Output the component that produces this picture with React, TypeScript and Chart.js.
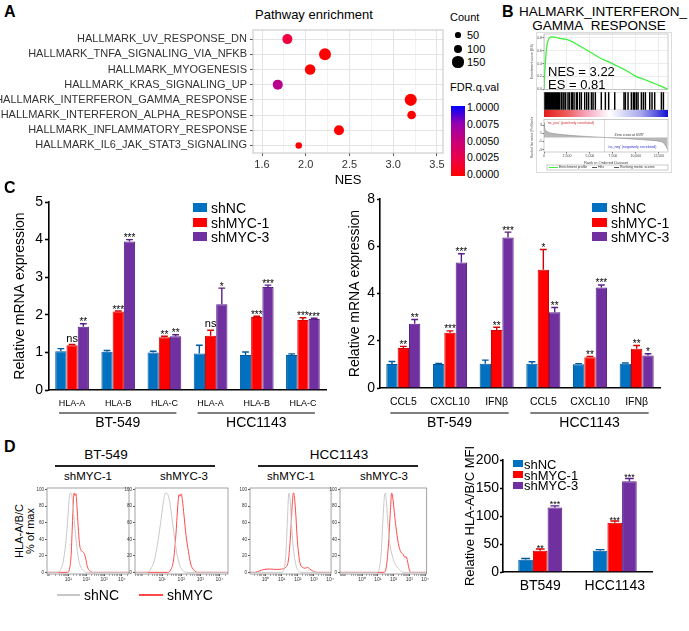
import React, { useEffect, useRef } from "react";
import { Chart, registerables } from "chart.js";

Chart.register(...registerables);
const FONT = "'Liberation Sans', Arial, Helvetica, sans-serif";
Chart.defaults.font.family = FONT;
Chart.defaults.color = "#000";

/* ---------------- A: pathway enrichment ---------------- */
const pathways = [
  "HALLMARK_UV_RESPONSE_DN",
  "HALLMARK_TNFA_SIGNALING_VIA_NFKB",
  "HALLMARK_MYOGENESIS",
  "HALLMARK_KRAS_SIGNALING_UP",
  "HALLMARK_INTERFERON_GAMMA_RESPONSE",
  "HALLMARK_INTERFERON_ALPHA_RESPONSE",
  "HALLMARK_INFLAMMATORY_RESPONSE",
  "HALLMARK_IL6_JAK_STAT3_SIGNALING",
];
const pathwayNES = [1.79, 2.22, 2.05, 1.68, 3.2, 3.21, 2.38, 1.92];
const pathwayCount = [130, 165, 140, 130, 168, 105, 130, 65];
const pathwayFDR = [0.0022, 0.0, 0.0, 0.0058, 0.0, 0.0, 0.0, 0.0];
const nesTickValues = [1.5, 2.0, 2.5, 3.0, 3.5];
const nesTickLabels = ["1.6", "2.0", "2.5", "3.0", "3.5"];
const countLegend = [50, 100, 150];
const fdrLegend = ["1.0000", "0.0075", "0.0050", "0.0025", "0.0000"];

/* ---------------- B: GSEA ---------------- */
const esRank = [0, 70, 150, 250, 350, 450, 600, 800, 1100, 1500, 2000, 2300, 2600, 3000, 3700, 4800, 6200, 7000, 8000, 9000, 9900, 11000, 11700, 12600, 13500];
const esScore = [0, 0.22, 0.42, 0.6, 0.71, 0.76, 0.8, 0.815, 0.81, 0.8, 0.785, 0.78, 0.77, 0.745, 0.69, 0.6, 0.48, 0.43, 0.36, 0.29, 0.21, 0.15, 0.11, 0.06, 0.0];
const esTicks = [0, 0.1, 0.2, 0.3, 0.4, 0.5, 0.6, 0.7, 0.8];
const hitRanks = [10, 35, 60, 90, 120, 150, 185, 215, 250, 285, 320, 350, 390, 430, 470, 510, 560, 600, 650, 700, 760, 820, 880, 950, 1020, 1100, 1180, 1260, 1340, 1450, 1600, 1710, 1890, 2070, 2180, 2360, 2610, 2760, 2980, 3090, 3270, 3520, 3630, 3880, 4070, 4430, 4650, 4860, 5160, 5340, 5590, 6240, 6680, 7040, 7700, 8710, 8860, 9150, 9510, 9730, 9870, 10060, 10240, 10600, 10820, 11040, 11510, 11760, 12050, 12780, 13000];
const metricRank = [0, 40, 120, 300, 600, 1000, 1600, 2500, 3500, 4500, 5500, 6597, 7500, 8500, 9500, 10500, 11500, 12200, 12800, 13100, 13300, 13450];
const metricValue = [3.6, 2.6, 1.9, 1.45, 1.15, 0.95, 0.78, 0.58, 0.4, 0.25, 0.12, 0, -0.12, -0.25, -0.38, -0.52, -0.68, -0.82, -1.05, -1.5, -2.3, -3.0];
const metricTicks = [-3, -2, -1, 0, 1, 2, 3, 4];
const rankTicks = [0, 2500, 5000, 7500, 10000, 12500];
const zeroCross = 6597;
const rankMax = 13500;

/* ---------------- C: qPCR ---------------- */
const seriesNames = ["shNC", "shMYC-1", "shMYC-3"];
const cellLinesC = ["BT-549", "HCC1143"];
const hlaGenes = ["HLA-A", "HLA-B", "HLA-C", "HLA-A", "HLA-B", "HLA-C"];
const hlaShNC = [1.03, 1.02, 1.0, 0.97, 0.93, 0.93];
const hlaShNCErr = [0.07, 0.03, 0.03, 0.22, 0.08, 0.03];
const hlaShMYC1 = [1.19, 2.09, 1.4, 1.44, 1.94, 1.86];
const hlaShMYC1Err = [0.02, 0.01, 0.03, 0.15, 0.02, 0.06];
const hlaShMYC3 = [1.68, 3.95, 1.43, 2.28, 2.74, 1.89];
const hlaShMYC3Err = [0.08, 0.05, 0.04, 0.43, 0.05, 0.02];
const hlaSig1 = ["ns", "***", "**", "ns", "***", "***"];
const hlaSig3 = ["**", "***", "**", "*", "***", "***"];

const cytGenes = ["CCL5", "CXCL10", "IFNβ", "CCL5", "CXCL10", "IFNβ"];
const cytShNC = [1.02, 1.02, 1.03, 1.03, 1.01, 1.03];
const cytShNCErr = [0.1, 0.02, 0.15, 0.08, 0.02, 0.03];
const cytShMYC1 = [1.69, 2.34, 2.46, 5.01, 1.3, 1.66];
const cytShMYC1Err = [0.07, 0.08, 0.11, 0.85, 0.04, 0.14];
const cytShMYC3 = [2.72, 5.31, 6.37, 3.21, 4.25, 1.38];
const cytShMYC3Err = [0.18, 0.37, 0.23, 0.2, 0.11, 0.07];
const cytSig1 = ["**", "***", "**", "*", "**", "**"];
const cytSig3 = ["**", "***", "***", "**", "***", "*"];

/* ---------------- D: flow + MFI ---------------- */
const flowYTicks = [0, 20, 40, 60, 80, 100];
const supDigits = ["⁰", "¹", "²", "³", "⁴"];
const bt1GreyX = [-0.2, 0.4, 0.55, 0.7, 0.85, 0.95, 1.03, 1.1, 1.17, 1.25, 1.35, 1.45, 1.55, 1.7, 1.85, 2.0, 4.4];
const bt1GreyY = [0, 0, 3, 12, 35, 60, 85, 96, 95, 82, 58, 35, 18, 6, 2, 0, 0];
const bt1RedX = [-0.2, 0.95, 1.05, 1.15, 1.22, 1.28, 1.32, 1.37, 1.42, 1.48, 1.55, 1.62, 1.7, 1.8, 1.9, 1.98, 2.05, 2.15, 2.3, 2.4, 4.4];
const bt1RedY = [0, 0, 3, 20, 55, 85, 96, 93, 95, 80, 55, 35, 27, 25, 22, 16, 8, 3, 0.5, 0, 0];
const bt3GreyX = [-0.42, 0.2, 0.4, 0.6, 0.8, 0.95, 1.08, 1.18, 1.28, 1.4, 1.52, 1.65, 1.78, 1.9, 2.05, 2.2, 2.3, 4.45];
const bt3GreyY = [0, 0, 4, 15, 40, 65, 87, 96, 95, 85, 65, 42, 22, 10, 3, 0.5, 0, 0];
const bt3RedX = [-0.42, 1.3, 1.45, 1.6, 1.72, 1.82, 1.88, 1.94, 2.0, 2.06, 2.15, 2.25, 2.38, 2.5, 2.65, 2.8, 2.9, 4.45];
const bt3RedY = [0, 0, 3, 15, 45, 80, 94, 92, 95, 88, 68, 45, 25, 10, 3, 0.5, 0, 0];
const hc1GreyX = [-0.96, 1.0, 1.15, 1.27, 1.36, 1.43, 1.47, 1.53, 1.62, 1.72, 1.82, 1.95, 2.1, 2.2, 4.06];
const hc1GreyY = [0, 0, 4, 25, 65, 94, 96, 85, 55, 30, 15, 5, 1, 0, 0];
const hc1RedX = [-0.96, -0.65, -0.4, -0.1, 0.3, 0.7, 1.0, 1.25, 1.42, 1.55, 1.65, 1.72, 1.78, 1.86, 1.95, 2.05, 2.15, 2.3, 2.45, 2.6, 2.75, 2.9, 3.05, 3.2, 4.06];
const hc1RedY = [0, 0, 1.5, 3.5, 4, 3.5, 4, 6, 15, 45, 80, 96, 93, 75, 45, 22, 10, 6, 5, 6, 4, 2, 0.5, 0, 0];
const hc3GreyX = [-1.4, 0.95, 1.1, 1.22, 1.33, 1.42, 1.48, 1.55, 1.65, 1.78, 1.92, 2.05, 2.2, 2.4, 2.6, 4.1];
const hc3GreyY = [0, 0, 5, 25, 65, 92, 96, 85, 55, 32, 20, 12, 7, 3, 0, 0];
const hc3RedX = [-1.4, 1.4, 1.55, 1.68, 1.8, 1.88, 1.95, 2.05, 2.15, 2.3, 2.45, 2.6, 2.72, 2.8, 2.88, 2.95, 3.02, 3.1, 4.1];
const hc3RedY = [0, 0, 8, 35, 75, 96, 90, 72, 55, 35, 25, 22, 18, 19, 14, 7, 2, 0, 0];

const mfiCells = ["BT549", "HCC1143"];
const mfiShNC = [22, 38];
const mfiShNCErr = [2, 2];
const mfiShMYC1 = [38, 88];
const mfiShMYC1Err = [3, 3];
const mfiShMYC3 = [115, 162];
const mfiShMYC3Err = [3, 5];
const mfiSig1 = ["**", "***"];
const mfiSig3 = ["***", "***"];

/* ---------------- styling ---------------- */
const BLUE = "#0070c0", RED = "#ff0000", PURPLE = "#7030a0";
const BLUE_D = "#005a9e", RED_D = "#d40000", PURPLE_D = "#5a2086";
const barColors = [BLUE, RED, PURPLE];
const barDark = [BLUE_D, RED_D, PURPLE_D];

const fdrStops: [number, number[]][] = [
  [0, [255, 0, 0]],
  [0.25, [236, 0, 73]],
  [0.5, [201, 0, 122]],
  [0.75, [150, 0, 176]],
  [1, [0, 0, 255]],
];
function fdrColor(f: number) {
  const t = Math.max(0, Math.min(1, f / 0.01));
  for (let i = 1; i < fdrStops.length; i++) {
    const [t1, c1] = fdrStops[i - 1];
    const [t2, c2] = fdrStops[i];
    if (t <= t2) {
      const k = (t - t1) / (t2 - t1);
      return `rgb(${c1.map((v, j) => Math.round(v + (c2[j] - v) * k)).join(",")})`;
    }
  }
  return "rgb(0,0,255)";
}
const countRadius = (c: number) => 1.5 + c * 0.027;

/* ---------------- plugins ---------------- */
const frame = (color: string, w: number) => ({
  id: "frame",
  afterDraw(chart: any) {
    const { left, top, right, bottom } = chart.chartArea;
    const ctx = chart.ctx;
    ctx.save();
    ctx.strokeStyle = color;
    ctx.lineWidth = w;
    ctx.strokeRect(left, top, right - left, bottom - top);
    ctx.restore();
  },
});

const errPlugin = (errs: number[][], sigs: string[][], sigSize: number, nsSize: number) => ({
  id: "errbars",
  afterDatasetsDraw(chart: any) {
    const ctx = chart.ctx;
    const ys = chart.scales.y;
    chart.data.datasets.forEach((ds: any, i: number) => {
      const meta = chart.getDatasetMeta(i);
      meta.data.forEach((bar: any, j: number) => {
        const v = ds.data[j];
        const top = ys.getPixelForValue(v + errs[i][j]);
        const hw = bar.width * 0.3;
        ctx.save();
        ctx.strokeStyle = ds.borderColor;
        ctx.lineWidth = 1.4;
        ctx.beginPath();
        ctx.moveTo(bar.x, bar.y);
        ctx.lineTo(bar.x, top);
        ctx.moveTo(bar.x - hw, top);
        ctx.lineTo(bar.x + hw, top);
        ctx.stroke();
        const s = sigs[i] && sigs[i][j];
        if (s) {
          ctx.fillStyle = "#000";
          ctx.textAlign = "center";
          ctx.textBaseline = "alphabetic";
          if (s === "ns") {
            ctx.font = `${nsSize}px ${FONT}`;
            ctx.fillText(s, bar.x, top - 3);
          } else {
            ctx.font = `${sigSize}px ${FONT}`;
            ctx.fillText(s, bar.x, top + 1.5);
          }
        }
        ctx.restore();
      });
    });
  },
});

const groupPlugin = (groups: { label: string; from: number; to: number }[], lineY: number, labelY: number, size: number, extL: number, extR: number) => ({
  id: "groups",
  afterDraw(chart: any) {
    const ctx = chart.ctx;
    const xs = chart.scales.x;
    groups.forEach((g) => {
      const a = xs.getPixelForValue(g.from) - extL;
      const b = xs.getPixelForValue(g.to) + extR;
      ctx.save();
      ctx.strokeStyle = "#555";
      ctx.lineWidth = 1.4;
      ctx.beginPath();
      ctx.moveTo(a, lineY);
      ctx.lineTo(b, lineY);
      ctx.stroke();
      ctx.fillStyle = "#000";
      ctx.font = `${size}px ${FONT}`;
      ctx.textAlign = "center";
      ctx.textBaseline = "middle";
      ctx.fillText(g.label, (a + b) / 2, labelY);
      ctx.restore();
    });
  },
});

const gseaAnnot = {
  id: "gseaAnnot",
  afterDraw(chart: any) {
    const ctx = chart.ctx;
    const xs = chart.scales.x;
    const ys = chart.scales.y;
    const { top, bottom, left } = chart.chartArea;
    const zx = xs.getPixelForValue(zeroCross);
    ctx.save();
    ctx.strokeStyle = "#777";
    ctx.lineWidth = 0.5;
    ctx.setLineDash([1, 1]);
    ctx.beginPath();
    ctx.moveTo(zx, top);
    ctx.lineTo(zx, bottom);
    ctx.stroke();
    ctx.setLineDash([]);
    ctx.font = `3.5px ${FONT}`;
    ctx.textBaseline = "middle";
    ctx.fillStyle = "#333";
    ctx.textAlign = "left";
    ctx.fillText("Zero cross at " + zeroCross, zx + 10, ys.getPixelForValue(0) - 2);
    ctx.fillStyle = "#d03030";
    ctx.fillText("'na_pos' (positively correlated)", left + 3, top + 3);
    ctx.fillStyle = "#3030d0";
    ctx.textAlign = "center";
    ctx.fillText("'na_neg' (negatively correlated)", xs.getPixelForValue(9600), ys.getPixelForValue(-2.3));
    const ly = 50.5;
    ctx.strokeStyle = "#999";
    ctx.lineWidth = 0.5;
    ctx.strokeRect(17, ly - 2.5, 121, 5);
    ctx.strokeStyle = "#3cf03c";
    ctx.lineWidth = 1;
    ctx.beginPath();
    ctx.moveTo(19, ly);
    ctx.lineTo(28, ly);
    ctx.stroke();
    ctx.strokeStyle = "#555";
    ctx.beginPath();
    ctx.moveTo(62, ly);
    ctx.lineTo(67, ly);
    ctx.moveTo(84, ly);
    ctx.lineTo(89, ly);
    ctx.stroke();
    ctx.fillStyle = "#333";
    ctx.textAlign = "left";
    ctx.fillText("Enrichment profile", 29, ly);
    ctx.fillText("Hits", 68, ly);
    ctx.fillText("Ranking metric scores", 90, ly);
    ctx.restore();
  },
};

/* ---------------- chart configs ---------------- */
const noPlug = { legend: { display: false }, tooltip: { enabled: false } };

function cfgA(): any {
  const majorIdx = (v: number) => nesTickValues.findIndex((t) => Math.abs(t - v) < 1e-6);
  const minors = nesTickValues.slice(0, -1).map((v, i) => (v + nesTickValues[i + 1]) / 2);
  const allTicks = [...nesTickValues, ...minors].sort((a, b) => a - b);
  return {
    type: "scatter",
    data: {
      datasets: [
        {
          data: pathwayNES.map((x, i) => ({ x, y: i })),
          pointRadius: pathwayCount.map(countRadius),
          pointBackgroundColor: pathwayFDR.map(fdrColor),
          pointBorderWidth: 0,
        },
      ],
    },
    options: {
      responsive: false,
      animation: false,
      events: [],
      layout: { padding: { top: 30, right: 7, left: 0, bottom: 0 } },
      plugins: noPlug,
      scales: {
        x: {
          type: "linear",
          min: 1.397,
          max: 3.569,
          afterBuildTicks: (s: any) => {
            s.ticks = allTicks.map((v) => ({ value: v }));
          },
          ticks: {
            autoSkip: false,
            maxRotation: 0,
            padding: 2,
            color: "#333",
            font: { size: 11 },
            callback: (v: number) => {
              const i = majorIdx(v);
              return i >= 0 ? nesTickLabels[i] : "";
            },
          },
          grid: {
            color: (c: any) => (majorIdx(c.tick.value) >= 0 ? "#e4e4e4" : "#f2f2f2"),
            tickColor: (c: any) => (majorIdx(c.tick.value) >= 0 ? "#555" : "rgba(0,0,0,0)"),
            tickLength: 3,
          },
          border: { display: false },
          title: { display: true, text: "NES", font: { size: 13 }, color: "#000", padding: { top: 0, bottom: 2 } },
          afterFit: (s: any) => {
            s.height = 37;
          },
        },
        y: {
          type: "linear",
          min: -0.6,
          max: 7.5,
          reverse: true,
          afterBuildTicks: (s: any) => {
            s.ticks = pathways.map((_, i) => ({ value: i }));
          },
          ticks: { autoSkip: false, padding: 3, color: "#333", font: { size: 11 }, callback: (v: number) => pathways[v] ?? "" },
          grid: { color: "#e4e4e4", tickColor: "#555", tickLength: 3 },
          border: { display: false },
          afterFit: (s: any) => {
            s.width = 253;
          },
        },
      },
    },
    plugins: [frame("#c4c4c4", 1)],
  };
}

function cfgES(): any {
  return {
    type: "line",
    data: {
      datasets: [
        {
          data: esRank.map((x, i) => ({ x, y: esScore[i] })),
          borderColor: "#3cf03c",
          borderWidth: 1.3,
          pointRadius: 0,
          cubicInterpolationMode: "monotone",
          fill: false,
        },
      ],
    },
    options: {
      responsive: false,
      animation: false,
      events: [],
      layout: { padding: { top: 4, right: 4, left: 0, bottom: 0 } },
      plugins: noPlug,
      scales: {
        x: {
          type: "linear",
          min: 0,
          max: rankMax,
          afterBuildTicks: (s: any) => {
            s.ticks = rankTicks.map((v) => ({ value: v }));
          },
          ticks: { display: false },
          grid: { color: "#ececec", drawTicks: false },
          border: { display: false },
          afterFit: (s: any) => {
            s.height = 0;
          },
        },
        y: {
          min: 0,
          max: 0.86,
          afterBuildTicks: (s: any) => {
            s.ticks = esTicks.map((v) => ({ value: v }));
          },
          ticks: { font: { size: 3.5 }, color: "#444", padding: 0.5, callback: (v: number) => v.toFixed(1) },
          grid: { color: "#ececec", tickLength: 1.5, tickColor: "#666" },
          border: { display: false },
          title: { display: true, text: "Enrichment score (ES)", font: { size: 3.5 }, color: "#444", padding: 0 },
          afterFit: (s: any) => {
            s.width = 14;
          },
        },
      },
    },
    plugins: [frame("#aaaaaa", 0.6)],
  };
}

function cfgHits(): any {
  return {
    type: "bar",
    data: {
      datasets: [
        {
          data: hitRanks.map((x) => ({ x, y: 1 })),
          backgroundColor: "#000",
          borderWidth: 0,
          barThickness: 0.8,
          grouped: false,
        },
      ],
    },
    options: {
      responsive: false,
      animation: false,
      events: [],
      layout: { padding: { top: 0, right: 4, left: 14, bottom: 0 } },
      plugins: noPlug,
      scales: {
        x: { type: "linear", min: 0, max: rankMax, display: false, offset: false },
        y: { min: 0, max: 1, display: false },
      },
    },
    plugins: [frame("#aaaaaa", 0.6)],
  };
}

function cfgMetric(): any {
  return {
    type: "line",
    data: {
      datasets: [
        {
          data: metricRank.map((x, i) => ({ x, y: metricValue[i] })),
          borderColor: "#8c8c8c",
          borderWidth: 0.6,
          backgroundColor: "#b8b8b8",
          fill: "origin",
          pointRadius: 0,
        },
      ],
    },
    options: {
      responsive: false,
      animation: false,
      events: [],
      layout: { padding: { top: 0, right: 4, left: 0, bottom: 7 } },
      plugins: noPlug,
      scales: {
        x: {
          type: "linear",
          min: 0,
          max: rankMax,
          afterBuildTicks: (s: any) => {
            s.ticks = rankTicks.map((v) => ({ value: v }));
          },
          ticks: { font: { size: 3.5 }, color: "#444", padding: 0.5, maxRotation: 0, autoSkip: false, callback: (v: number) => v.toLocaleString("en-US") },
          grid: { drawOnChartArea: false, tickLength: 1.5, tickColor: "#666" },
          border: { display: false },
          title: { display: true, text: "Rank in Ordered Dataset", font: { size: 4 }, color: "#444", padding: { top: 0, bottom: 0.5 } },
          afterFit: (s: any) => {
            s.height = 14;
          },
        },
        y: {
          min: -3.6,
          max: 4.4,
          afterBuildTicks: (s: any) => {
            s.ticks = metricTicks.map((v) => ({ value: v }));
          },
          ticks: { font: { size: 3.5 }, color: "#444", padding: 0.5 },
          grid: { drawOnChartArea: false, tickLength: 1.5, tickColor: "#666" },
          border: { display: false },
          title: { display: true, text: "Ranked list metric (PreRanked)", font: { size: 3.2 }, color: "#444", padding: 0 },
          afterFit: (s: any) => {
            s.width = 14;
          },
        },
      },
    },
    plugins: [frame("#aaaaaa", 0.6), gseaAnnot],
  };
}

function barCfg(o: any): any {
  return {
    type: "bar",
    data: {
      labels: o.labels,
      datasets: o.series.map((d: number[], i: number) => ({
        label: seriesNames[i],
        data: d,
        backgroundColor: barColors[i],
        borderColor: barDark[i],
        borderWidth: 1,
        categoryPercentage: o.catPct,
        barPercentage: 1,
      })),
    },
    options: {
      responsive: false,
      animation: false,
      events: [],
      layout: { padding: { top: o.padTop, right: o.padRight, left: 0, bottom: 0 } },
      plugins: noPlug,
      scales: {
        x: {
          grid: { display: false, drawTicks: false },
          border: { display: true, color: "#000", width: 1.6 },
          ticks: { font: { size: o.xTickSize }, color: "#000", padding: o.xTickPad, maxRotation: 0, autoSkip: false },
          afterFit: (s: any) => {
            s.height = o.xH;
          },
        },
        y: {
          min: 0,
          max: o.yMax,
          ticks: { stepSize: o.yStep, font: { size: o.yTickSize }, color: "#000", padding: o.yTickPad ?? 2 },
          grid: { drawOnChartArea: false, drawTicks: true, tickLength: o.yTickLen ?? 4, tickColor: "#000", tickWidth: 1.6 },
          border: { display: true, color: "#000", width: 1.6 },
          title: { display: true, text: o.yTitle, font: { size: o.yTitleSize }, color: "#000", padding: { top: o.yTitlePad, bottom: 0 } },
          afterFit: (s: any) => {
            s.width = o.yW;
          },
        },
      },
    },
    plugins: [
      errPlugin(o.errs, o.sigs, o.sigSize, o.nsSize),
      ...(o.groups ? [groupPlugin(o.groups, o.groupLineY, o.groupLabelY, o.groupSize, o.extL, o.extR)] : []),
    ],
  };
}

function flowCfg(gx: number[], gy: number[], rx: number[], ry: number[], xmin: number, xmax: number, decades: number[]): any {
  const minors: number[] = [];
  for (let d = Math.floor(xmin); d <= Math.ceil(xmax); d++) {
    for (let k = 2; k <= 9; k++) {
      const v = d + Math.log10(k);
      if (v > xmin && v < xmax) minors.push(v);
    }
  }
  const ticks = [...decades, ...minors].sort((a, b) => a - b);
  const isDecade = (v: number) => decades.some((d) => Math.abs(d - v) < 1e-6);
  return {
    type: "line",
    data: {
      datasets: [
        { data: gx.map((x, i) => ({ x, y: gy[i] })), borderColor: "#c8c8c8", borderWidth: 1, pointRadius: 0, cubicInterpolationMode: "monotone" },
        { data: rx.map((x, i) => ({ x, y: ry[i] })), borderColor: "#ff4a4a", borderWidth: 1, pointRadius: 0, cubicInterpolationMode: "monotone" },
      ],
    },
    options: {
      responsive: false,
      animation: false,
      events: [],
      layout: { padding: { top: 4, right: 3, left: 0, bottom: 0 } },
      plugins: noPlug,
      scales: {
        x: {
          type: "linear",
          min: xmin,
          max: xmax,
          afterBuildTicks: (s: any) => {
            s.ticks = ticks.map((v) => ({ value: v }));
          },
          ticks: {
            autoSkip: false,
            maxRotation: 0,
            font: { size: 5 },
            color: "#333",
            padding: 1,
            callback: (v: number) => (isDecade(v) ? "10" + supDigits[Math.round(v)] : ""),
          },
          grid: { drawOnChartArea: false, tickLength: 2, tickColor: (c: any) => (isDecade(c.tick.value) ? "#555" : "#aaa") },
          border: { display: false },
          afterFit: (s: any) => {
            s.height = 10;
          },
        },
        y: {
          min: -2,
          max: 102,
          afterBuildTicks: (s: any) => {
            s.ticks = flowYTicks.map((v) => ({ value: v }));
          },
          ticks: { font: { size: 4.5 }, color: "#333", padding: 1 },
          grid: { drawOnChartArea: false, tickLength: 2, tickColor: "#555" },
          border: { display: false },
          afterFit: (s: any) => {
            s.width = 12;
          },
        },
      },
    },
    plugins: [frame("#8c8c8c", 0.8)],
  };
}

/* ---------------- components ---------------- */
function ChartBox({ x, y, w, h, make }: any) {
  const ref = useRef<HTMLCanvasElement>(null);
  useEffect(() => {
    const chart = new Chart(ref.current as HTMLCanvasElement, make());
    return () => chart.destroy();
  }, []);
  return <canvas ref={ref} width={w} height={h} style={{ position: "absolute", left: x, top: y, width: w, height: h }} />;
}

function Txt({ x, y, s, a = "l", b = false, c = "#000", rot = 0, children }: any) {
  const tx = a === "l" ? "0%" : a === "c" ? "-50%" : "-100%";
  return (
    <div
      style={{
        position: "absolute",
        left: x,
        top: y,
        fontSize: s,
        fontWeight: b ? 700 : 400,
        color: c,
        lineHeight: 1,
        whiteSpace: "nowrap",
        fontFamily: FONT,
        transform: `translate(${tx}, -50%) rotate(${rot}deg)`,
      }}
    >
      {children}
    </div>
  );
}

function HLine({ x1, x2, y, w = 1.2, c = "#222" }: any) {
  return <div style={{ position: "absolute", left: x1, top: y - w / 2, width: x2 - x1, height: w, background: c }} />;
}

function Box({ x, y, w, h, c }: any) {
  return <div style={{ position: "absolute", left: x, top: y, width: w, height: h, background: c }} />;
}

function BarLegend({ x, ys, sw, sh, tx, size }: any) {
  return (
    <>
      {seriesNames.map((n, i) => (
        <React.Fragment key={n}>
          <Box x={x} y={ys[i] - sh / 2} w={sw} h={sh} c={barColors[i]} />
          <Txt x={tx} y={ys[i]} s={size}>
            {n}
          </Txt>
        </React.Fragment>
      ))}
    </>
  );
}

const fdrGradient = `linear-gradient(to top, ${fdrStops.map(([t, c]) => `rgb(${c.join(",")}) ${t * 100}%`).join(", ")})`;

const groupsOf = (labels: string[]) => [
  { label: labels[0], from: 0, to: 2 },
  { label: labels[1], from: 3, to: 5 },
];

const flowBox = (l: number, r: number) => ({ x: l - 12, w: r + 3 - (l - 12) });

export default function App() {
  const f1 = flowBox(47, 129);
  const f2 = flowBox(135, 228);
  const f3 = flowBox(250, 332);
  const f4 = flowBox(340, 427);
  return (
    <div style={{ position: "absolute", left: 0, top: 0, width: 689, height: 631, background: "#fff", overflow: "hidden", fontFamily: FONT }}>
      {/* ---------- A ---------- */}
      <Txt x={4} y={12} s={16} b>
        A
      </Txt>
      <Txt x={255} y={14} s={13}>
        Pathway enrichment
      </Txt>
      <ChartBox x={0} y={0} w={450} h={190} make={cfgA} />
      <Txt x={450} y={17} s={11}>
        Count
      </Txt>
      {countLegend.map((c, i) => {
        const r = countRadius(c);
        const cy = [35, 49, 62][i];
        return (
          <React.Fragment key={c}>
            <div style={{ position: "absolute", left: 458 - r, top: cy - r, width: 2 * r, height: 2 * r, borderRadius: "50%", background: "#000" }} />
            <Txt x={467} y={cy} s={11}>
              {c}
            </Txt>
          </React.Fragment>
        );
      })}
      <Txt x={450} y={87} s={11}>
        FDR.q.val
      </Txt>
      <div style={{ position: "absolute", left: 451, top: 106, width: 14, height: 70, background: fdrGradient }} />
      {fdrLegend.map((l, i) => (
        <Txt key={l} x={467} y={107 + i * 16.75} s={10.5}>
          {l}
        </Txt>
      ))}

      {/* ---------- B ---------- */}
      <Txt x={502} y={12} s={16} b>
        B
      </Txt>
      <Txt x={603} y={12} s={13.5} a="c">
        HALMARK_INTERFERON_
      </Txt>
      <Txt x={599} y={26} s={13.5} a="c">
        GAMMA_RESPONSE
      </Txt>
      <div style={{ position: "absolute", left: 536, top: 32, width: 136, height: 141, border: "1px solid #dcdcdc", boxSizing: "border-box" }} />
      <ChartBox x={530} y={30} w={142} h={62} make={cfgES} />
      <ChartBox x={530} y={92} w={142} h={18} make={cfgHits} />
      <div
        style={{
          position: "absolute",
          left: 544,
          top: 110,
          width: 124,
          height: 7,
          background: "linear-gradient(to right, #e41c1c 0%, #ee5a5a 18%, #f4a0b8 33%, #fbd8e6 45%, #ffffff 53%, #dcdcf6 63%, #a8a8ee 78%, #5a5ae0 90%, #1010d0 100%)",
        }}
      />
      <ChartBox x={530} y={117} w={142} h={56} make={cfgMetric} />
      <Txt x={548} y={70.5} s={13}>
        NES = 3.22
      </Txt>
      <Txt x={548} y={84} s={13}>
        ES = 0.81
      </Txt>

      {/* ---------- C ---------- */}
      <Txt x={4} y={188} s={16} b>
        C
      </Txt>
      <ChartBox
        x={0}
        y={186}
        w={335}
        h={245}
        make={() =>
          barCfg({
            labels: hlaGenes,
            series: [hlaShNC, hlaShMYC1, hlaShMYC3],
            errs: [hlaShNCErr, hlaShMYC1Err, hlaShMYC3Err],
            sigs: [[], hlaSig1, hlaSig3],
            yMax: 5,
            yStep: 1,
            yW: 49,
            xH: 41,
            padTop: 16,
            padRight: 9,
            yTitle: "Relative mRNA expression",
            yTitleSize: 14,
            yTitlePad: 11.6,
            yTickSize: 14,
            xTickSize: 9,
            xTickPad: 8,
            catPct: 0.73,
            sigSize: 10,
            nsSize: 11,
            groups: groupsOf(cellLinesC),
            groupLineY: 227,
            groupLabelY: 237,
            groupSize: 14,
            extL: 13,
            extR: 12,
          })
        }
      />
      <BarLegend x={193} ys={[207.5, 222.5, 236.5]} sw={14} sh={9} tx={211} size={14} />
      <ChartBox
        x={345}
        y={186}
        w={322}
        h={245}
        make={() =>
          barCfg({
            labels: cytGenes,
            series: [cytShNC, cytShMYC1, cytShMYC3],
            errs: [cytShNCErr, cytShMYC1Err, cytShMYC3Err],
            sigs: [[], cytSig1, cytSig3],
            yMax: 8,
            yStep: 2,
            yW: 35,
            xH: 43,
            padTop: 13,
            padRight: 7,
            yTitle: "Relative mRNA expression",
            yTitleSize: 14,
            yTitlePad: 1.6,
            yTickSize: 14,
            yTickLen: 3,
            xTickSize: 10.5,
            xTickPad: 8,
            catPct: 0.73,
            sigSize: 10,
            nsSize: 11,
            groups: groupsOf(cellLinesC),
            groupLineY: 227,
            groupLabelY: 237,
            groupSize: 14,
            extL: 13,
            extR: 12,
          })
        }
      />
      <BarLegend x={592} ys={[207.5, 222.5, 236.5]} sw={15} sh={9} tx={611} size={14} />

      {/* ---------- D ---------- */}
      <Txt x={4} y={447} s={16} b>
        D
      </Txt>
      <Txt x={106} y={455} s={13.5} a="c">
        BT-549
      </Txt>
      <HLine x1={55} x2={215} y={466} />
      <Txt x={339} y={455} s={13.5} a="c">
        HCC1143
      </Txt>
      <HLine x1={258} x2={418} y={466} />
      <Txt x={88} y={477} s={11.5} a="c">
        shMYC-1
      </Txt>
      <Txt x={184} y={477} s={11.5} a="c">
        shMYC-3
      </Txt>
      <Txt x={291} y={477} s={11.5} a="c">
        shMYC-1
      </Txt>
      <Txt x={384} y={477} s={11.5} a="c">
        shMYC-3
      </Txt>
      <Txt x={19} y={531} s={11} a="c" rot={-90}>
        HLA-A/B/C
      </Txt>
      <Txt x={30} y={531} s={11} a="c" rot={-90}>
        % of max
      </Txt>
      <ChartBox x={f1.x} y={484} w={f1.w} h={100} make={() => flowCfg(bt1GreyX, bt1GreyY, bt1RedX, bt1RedY, -0.2, 4.4, [1, 2, 3, 4])} />
      <ChartBox x={f2.x} y={484} w={f2.w} h={100} make={() => flowCfg(bt3GreyX, bt3GreyY, bt3RedX, bt3RedY, -0.42, 4.45, [1, 2, 3, 4])} />
      <ChartBox x={f3.x} y={484} w={f3.w} h={100} make={() => flowCfg(hc1GreyX, hc1GreyY, hc1RedX, hc1RedY, -0.96, 4.06, [0, 1, 2, 3, 4])} />
      <ChartBox x={f4.x} y={484} w={f4.w} h={100} make={() => flowCfg(hc3GreyX, hc3GreyY, hc3RedX, hc3RedY, -1.4, 4.1, [0, 1, 2, 3, 4])} />
      <HLine x1={57} x2={80} y={595} w={1.2} c="#c8c8c8" />
      <Txt x={84} y={595} s={14}>
        shNC
      </Txt>
      <HLine x1={139} x2={163} y={595} w={1.2} c="#ff4a4a" />
      <Txt x={167} y={595} s={14}>
        shMYC
      </Txt>

      <ChartBox
        x={460}
        y={440}
        w={200}
        h={165}
        make={() =>
          barCfg({
            labels: mfiCells,
            series: [mfiShNC, mfiShMYC1, mfiShMYC3],
            errs: [mfiShNCErr, mfiShMYC1Err, mfiShMYC3Err],
            sigs: [[], mfiSig1, mfiSig3],
            yMax: 200,
            yStep: 50,
            yW: 43,
            xH: 33,
            padTop: 20,
            padRight: 8,
            yTitle: "Relative HLA-A/B/C MFI",
            yTitleSize: 13,
            yTitlePad: 2.2,
            yTickSize: 14,
            yTickLen: 3,
            yTickPad: 1,
            xTickSize: 14,
            xTickPad: 6,
            catPct: 0.59,
            sigSize: 9,
            nsSize: 10,
          })
        }
      />
      <BarLegend x={513} ys={[463.5, 474.5, 485]} sw={10} sh={7} tx={524} size={13} />
    </div>
  );
}
